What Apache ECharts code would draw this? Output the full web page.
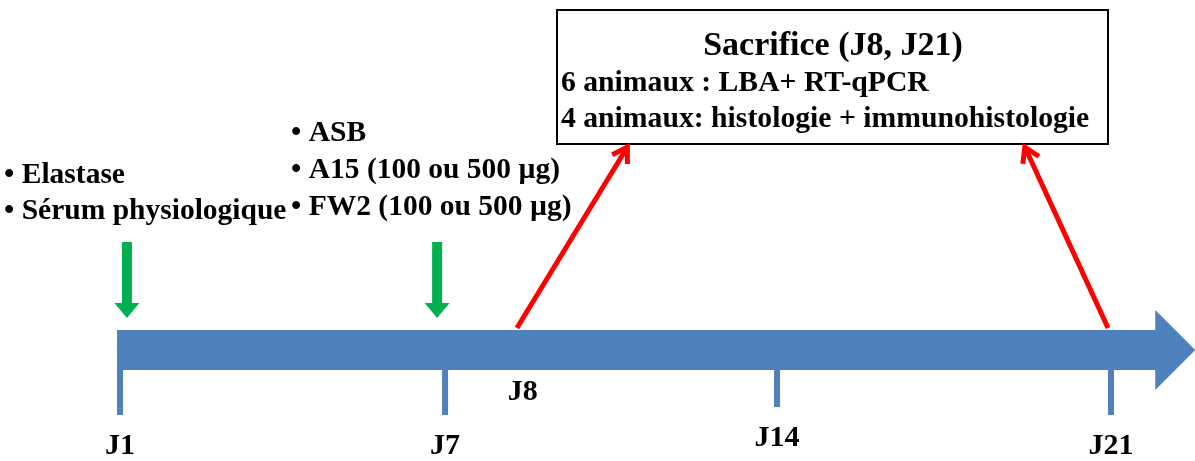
<!DOCTYPE html>
<html>
<head>
<meta charset="utf-8">
<script src="https://cdn.jsdelivr.net/npm/echarts@6/dist/echarts.min.js"></script>
<style>
    html, body { margin: 0; padding: 0; background: #fff; }
    #chart { width: 1195px; height: 461px; }
</style>
</head>
<body>
<div id="chart"></div>
<script>
// positions are read off the sketch, on a day scale where J1 = 1 and J21 = 21
// (the drawing is not to scale, so J7 / J8 / J14 sit a bit right of their day)
var tickLabels = ['J1', 'J7', 'J14', 'J21'];
var tickPos = [1, 7.56, 14.26, 21];
var timelineSpan = [0.94, 22.7];

var doseLabels = [['Elastase', 'Sérum physiologique'], ['ASB', 'A15 (100 ou 500 µg)', 'FW2 (100 ou 500 µg)']];
var dosePos = [1.14, 7.40];

var sacrificeLabel = 'J8';
var sacrificeLabelPos = 9.13;
var sacrificeFrom = [9.01, 20.94];
var sacrificeTo = [11.24, 19.26];

var boxTitle = 'Sacrifice (J8, J21)';
var boxLines = ['6 animaux : LBA+ RT-qPCR', '4 animaux: histologie + immunohistologie'];

var SERIF = 'Liberation Serif';
var BLUE = '#4f81bd', GREEN = '#00b050', RED = '#ff0000';
var LINE_Y = 350;   // vertical centre of the time line (y axis runs top-down in px)

var chart = echarts.init(document.getElementById('chart'));

function txt(text, size, align) {
    return {
        text: text, fill: '#000', fontFamily: SERIF, fontWeight: 'bold', fontSize: size,
        align: align || 'left', verticalAlign: 'middle'
    };
}

function timelineItem(params, api) {
    var a = api.coord([api.value(0), LINE_Y]);
    var b = api.coord([api.value(1), LINE_Y]);
    var head = 40;
    return {
        type: 'polygon',
        shape: {
            points: [
                [a[0], a[1] - 20], [b[0] - head, a[1] - 20], [b[0] - head, a[1] - 40],
                [b[0], a[1]],
                [b[0] - head, a[1] + 40], [b[0] - head, a[1] + 20], [a[0], a[1] + 20]
            ]
        },
        style: { fill: BLUE }
    };
}

function tickItem(params, api) {
    var p = api.coord([api.value(0), LINE_Y]);
    var lbl = tickLabels[params.dataIndex];
    var short = lbl === 'J14';
    var len = short ? 37 : 45;
    return {
        type: 'group',
        children: [{
            type: 'rect',
            shape: { x: p[0] - 3, y: p[1] + 20, width: 6, height: len },
            style: { fill: BLUE }
        }, {
            type: 'text',
            x: p[0], y: p[1] + (short ? 88 : 96),
            style: txt(lbl, 30, 'center')
        }]
    };
}

function labelItem(params, api) {
    var p = api.coord([api.value(0), LINE_Y]);
    return { type: 'text', x: p[0], y: p[1] + 42, style: txt(sacrificeLabel, 30, 'center') };
}

function doseItem(params, api) {
    var p = api.coord([api.value(0), LINE_Y]);
    var x = p[0], tip = p[1] - 32;
    return {
        type: 'polygon',
        shape: {
            points: [
                [x - 5, tip - 76], [x + 5, tip - 76], [x + 5, tip - 15], [x + 12.5, tip - 15],
                [x, tip], [x - 12.5, tip - 15], [x - 5, tip - 15]
            ]
        },
        style: { fill: GREEN }
    };
}

function sacrificeItem(params, api) {
    var a = api.coord([api.value(0), LINE_Y - 22]);
    var b = api.coord([api.value(1), 147]);
    var ang = Math.atan2(b[1] - a[1], b[0] - a[0]);
    var h = 17, spread = 0.55;
    var w1 = [b[0] - h * Math.cos(ang - spread), b[1] - h * Math.sin(ang - spread)];
    var w2 = [b[0] - h * Math.cos(ang + spread), b[1] - h * Math.sin(ang + spread)];
    var st = { stroke: RED, lineWidth: 5, fill: null, lineCap: 'butt', lineJoin: 'miter' };
    return {
        type: 'group',
        children: [
            { type: 'line', shape: { x1: a[0], y1: a[1], x2: b[0], y2: b[1] }, style: st },
            { type: 'polyline', shape: { points: [w1, b, w2] }, style: st }
        ]
    };
}

function bulletLines(x, yTop, gap, lines) {
    return lines.map(function (t, i) {
        return { type: 'text', x: x, y: yTop + i * gap, style: txt('• ' + t, 29.5) };
    });
}

var graphics = [{
    type: 'rect',
    shape: { x: 557, y: 10, width: 551, height: 134 },
    style: { fill: '#fff', stroke: '#000', lineWidth: 2 },
    z: 1
}, {
    type: 'text', x: 833, y: 46, style: txt(boxTitle, 34, 'center'), z: 2
}];
boxLines.forEach(function (t, i) {
    graphics.push({ type: 'text', x: 561, y: 83 + i * 36, style: txt(t, 29.7), z: 2 });
});
graphics = graphics.concat(bulletLines(4, 175, 36, doseLabels[0]), bulletLines(291, 133, 37, doseLabels[1]));

var option = {
    animation: false,
    grid: { left: 0, right: 0, top: 0, bottom: 0 },
    xAxis: { type: 'value', min: -1.4218, max: 22.695, show: false },
    yAxis: { type: 'value', min: 0, max: 461, inverse: true, show: false },
    graphic: graphics,
    series: [
        { type: 'custom', renderItem: timelineItem, data: [timelineSpan], z: 2 },
        { type: 'custom', renderItem: tickItem, data: tickPos.map(function (p) { return [p]; }), z: 1 },
        { type: 'custom', renderItem: labelItem, data: [[sacrificeLabelPos]], z: 3 },
        { type: 'custom', renderItem: doseItem, data: dosePos.map(function (p) { return [p]; }), z: 3 },
        {
            type: 'custom', renderItem: sacrificeItem, z: 4,
            data: sacrificeFrom.map(function (p, i) { return [p, sacrificeTo[i]]; })
        }
    ]
};

chart.setOption(option);
</script>
</body>
</html>
